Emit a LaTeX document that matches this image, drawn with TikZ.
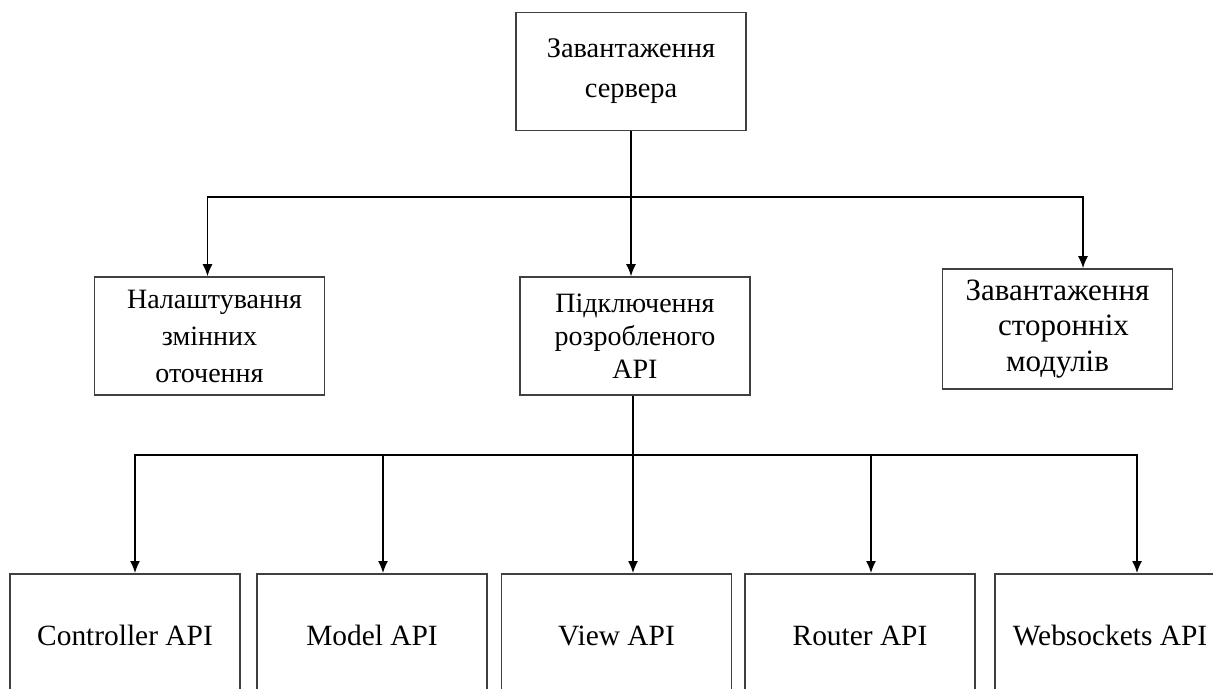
\documentclass[tikz,border=0pt]{standalone}
\usepackage{fontspec}
\setmainfont{Liberation Serif}
\usetikzlibrary{arrows.meta, positioning}
\tikzstyle{block} = [rectangle, draw=black!75, line width=0.8pt, minimum width=115pt, minimum height=59pt, text centered, align=center, inner sep=0pt]
\tikzstyle{apibox} = [block, anchor=north, minimum height=62pt, font=\fontsize{14.7}{17}\selectfont]
\tikzstyle{arrow} = [line width=0.7pt, -{Latex[length=6pt, width=5pt]}]
\tikzstyle{line} = [line width=0.7pt]

\begin{document}
\begin{tikzpicture}[x=0.5pt, y=-0.5pt]
\useasboundingbox (0,0) rectangle (1213,689);
\clip (0,0) rectangle (1213,689);
\fill[white] (0,0) rectangle (1213,689);

\node (boot) [block, font=\fontsize{14.2}{20}\selectfont] at (631,71.5) {Завантаження\\сервера};
\node (env) [block, font=\fontsize{14}{18.5}\selectfont] at (209.5,336) {\hspace*{5pt}Налаштування\\змінних\\оточення};
\node (api) [block, font=\fontsize{14}{16.5}\selectfont] at (635,336) {Підключення\\розробленого\\API};
\node (mods) [block, minimum height=60pt, font=\fontsize{15.5}{17.75}\selectfont] at (1057.5,329) {Завантаження\\\hspace*{6pt}сторонніх\\модулів};

\node (ctrl) [apibox] at (125,573) {Controller API};
\node (model) [apibox] at (372,573) {Model API};
\node (view) [apibox] at (616.5,573) {View API};
\node (router) [apibox] at (860,573) {Router API};
\node (ws) [apibox] at (1110,573) {Websockets API};

% first level
\coordinate (busA) at (631,197);
\draw [line] (boot.south) -- (busA);
\draw [arrow] (busA) -| ([xshift=-1pt]env.north);
\draw [arrow] (busA) -- (busA |- api.north);
\draw [arrow] (busA) -| ([xshift=12.75pt]mods.north);

% second level
\coordinate (busB) at (633,455);
\draw [line] (busB |- api.south) -- (busB);
\draw [arrow] (busB) -| ([xshift=5pt]ctrl.north);
\draw [arrow] (busB) -| ([xshift=5.5pt]model.north);
\draw [arrow] (busB) -- (busB |- view.north);
\draw [arrow] (busB) -| ([xshift=5.5pt]router.north);
\draw [arrow] (busB) -| ([xshift=13.5pt]ws.north);
\end{tikzpicture}
\end{document}
